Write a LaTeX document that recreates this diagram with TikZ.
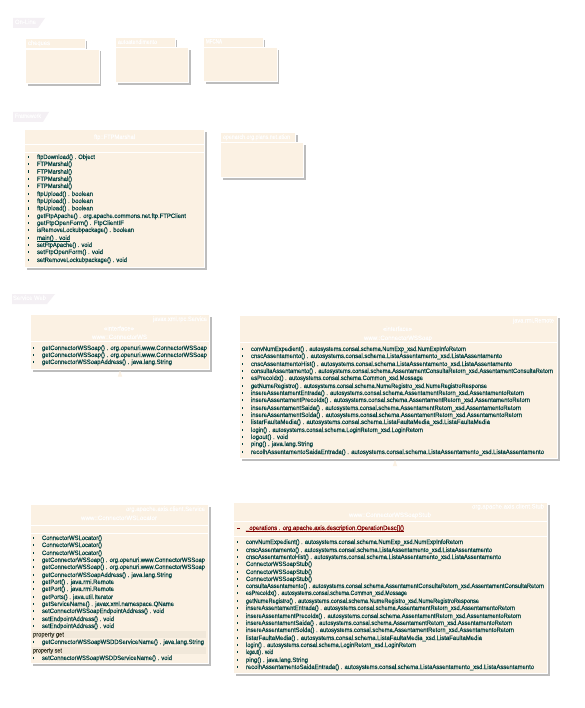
\documentclass[tikz,border=0pt]{standalone}
\usepackage{fontspec}
\usepackage{graphicx}
\setmainfont{Liberation Sans}[FakeBold=0.15]
\usetikzlibrary{shadows,arrows.meta}
\definecolor{cream}{HTML}{FBF1E3}
\definecolor{teal}{HTML}{003F3F}
\definecolor{band}{HTML}{F1E8DA}
\definecolor{tabc}{HTML}{F4F0F4}
\definecolor{shade}{HTML}{BDBDBD}
\definecolor{darkred}{HTML}{800000}
\definecolor{grp}{HTML}{3A3A2A}
\tikzset{
  umlbox/.style={fill=cream,draw=white,line width=.8pt,inner sep=0pt,outer sep=0pt,anchor=north west,
    drop shadow={opacity=1,fill=shade,shadow xshift=2.2pt,shadow yshift=-2.2pt}},
  sepline/.style={white,line width=.8pt},
  labeltxt/.style={inner sep=0pt,outer sep=0pt,anchor=base west},
  sectab/.style={fill=tabc},
  bandbox/.style={fill=band,inner sep=0pt,outer sep=0pt,anchor=north west},
  connector/.style={white,line width=.6pt,{Triangle[width=4pt,length=6pt,color=cream,fill=cream]}-},
}
\newcounter{lblc}
% #1 colour, #2 x start, #3 x end, #4 y centre, #5 text
\newcommand{\lbl}[5]{\stepcounter{lblc}%
  \node[labeltxt,text=#1] (t\thelblc) at (#2,#4+2) {\resizebox{\dimexpr #3pt-#2pt\relax}{5.15pt}{\fontsize{6}{7}\selectfont\strut #5}};}
\newcommand{\mth}[4]{\fill[teal] (#1-8.8,#3-1.3) rectangle (#1-8,#3+1.3);\lbl{teal}{#1}{#2}{#3}{#4}}
% name x1 y1 x2 y2 : cream area exactly x1..x2, y1..y2, white border outside it
\newcommand{\ubox}[5]{\node[umlbox,minimum width={(#4-#2+.8)*1pt},minimum height={(#5-#3+.8)*1pt}] (#1) at (#2-.4,#3-.4) {};}
\newcommand{\sepl}[3]{\draw[sepline] (#1,#3) -- (#2,#3);}
\begin{document}
\begin{tikzpicture}[x=1pt,y=-1pt]
\useasboundingbox (0,0) rectangle (585,708);
\fill[white] (0,0) rectangle (585,708);
% section tabs
\fill[sectab] (13,18) -- (45,18) -- (38,28) -- (13,28) -- cycle;
\lbl{white}{15}{36}{22}{On-Line}
\fill[sectab] (13,112) -- (49,112) -- (43,122) -- (13,122) -- cycle;
\lbl{white}{15}{41}{116}{Framework}
\fill[sectab] (12,294) -- (55,294) -- (47,304) -- (12,304) -- cycle;
\lbl{white}{13}{46}{298}{Service Web}
% packages
\ubox{p1t}{26}{39}{84.5}{48}\ubox{p1}{26}{49.5}{98.5}{83}
\lbl{white}{28}{50}{43}{cheques}
\ubox{p2t}{116}{38}{174.5}{47}\ubox{p2}{116}{48}{188}{82}
\lbl{white}{118}{157}{42}{autoatendimento}
\ubox{p3t}{204}{38}{262.5}{47}\ubox{p3}{204}{48}{276.5}{81}
\lbl{white}{206}{222}{41.5}{MFCNA}
\ubox{p4t}{221}{133}{295}{142}\ubox{p4}{221}{143}{303}{177}
\lbl{white}{223}{290}{137}{openarch.org.plans.net.ation}
% FTPMarshal
\ubox{ftp}{25}{130}{204}{267}
\sepl{25}{204}{144.5}\sepl{25}{204}{152.5}
\lbl{white}{94}{135}{137}{ftp::FTPMarshal}
\mth{37}{95}{157}{ftpDownload() . Object}
\mth{37}{72}{164}{FTPMarshal()}
\mth{37}{72}{171.7}{FTPMarshal()}
\mth{37}{72}{179}{FTPMarshal()}
\mth{37}{72}{186}{FTPMarshal()}
\mth{37}{93}{194}{ftpUpload() . boolean}
\mth{37}{93}{201}{ftpUpload() . boolean}
\mth{37}{93}{208.3}{ftpUpload() . boolean}
\mth{37}{186}{216}{getFtpApache() . org.apache.commons.net.ftp.FTPClient}
\mth{37}{124}{223}{getFtpOpenForm() . FtpClientIF}
\mth{37}{134}{230}{isRemoveLockubpackage() . boolean}
\mth{37}{70}{238}{main() . void}
\fill[teal] (37,240.8) rectangle (70,241.4);
\mth{37}{92}{245}{setFtpApache() . void}
\mth{37}{103}{252}{setFtpOpenForm() . void}
\mth{37}{127}{260}{setRemoveLockubpackage() . void}
% ConnectorWS
\ubox{ws}{31}{315}{209}{369}
\sepl{31}{209}{341}
\lbl{white}{153}{207}{319}{javax.xml.rpc.Service}
\lbl{white}{104}{134}{328.5}{«interface»}
\lbl{white}{92}{147}{337}{www::ConnectorWS}
\mth{42}{207}{348}{getConnectorWSSoap() . org.openuri.www.ConnectorWSSoap}
\mth{42}{207}{355}{getConnectorWSSoap() . org.openuri.www.ConnectorWSSoap}
\mth{42}{172}{362}{getConnectorWSSoapAddress() . java.lang.String}
% ConnectorWSSoap
\ubox{soap}{240}{316}{557}{458}
\sepl{240}{557}{342}
\lbl{white}{513}{554}{320.5}{java.rmi.Remote}
\lbl{white}{383}{412}{329}{«interface»}
\lbl{white}{364}{432}{338}{www::ConnectorWSSoap}
\mth{251}{466}{349}{convNumExpedient() . autosystems.consal.schema.NumExp\_xsd.NumExpInfoRetorn}
\mth{251}{502}{356}{cnscAssentamento() . autosystems.consal.schema.ListaAssentamento\_xsd.ListaAssentamento}
\mth{251}{512}{364}{cnscAssentamentoHist() . autosystems.consal.schema.ListaAssentamento\_xsd.ListaAssentamento}
\mth{251}{553}{371}{consultaAssentamento() . autosystems.consal.schema.AssentamentConsultaRetorn\_xsd.AssentamentConsultaRetorn}
\mth{251}{423}{378}{esPrecoIdx() . autosystems.consal.schema.Common\_xsd.Mossage}
\mth{251}{487}{386}{getNumeRegistro() . autosystems.consal.schema.NumeRegistro\_xsd.NumeRegistroResponse}
\mth{251}{524}{393}{insereAssentamentEntrada() . autosystems.consal.schema.AssentamentRetorn\_xsd.AssentamentoRetorn}
\mth{251}{530}{400}{insereAssentamentPrecoIdx() . autosystems.consal.schema.AssentamentRetorn\_xsd.AssentamentoRetorn}
\mth{251}{521}{408}{insereAssentamentSaida() . autosystems.consal.schema.AssentamentRetorn\_xsd.AssentamentoRetorn}
\mth{251}{522}{415}{insereAssentamentSolda() . autosystems.consal.schema.AssentamentRetorn\_xsd.AssentamentoRetorn}
\mth{251}{490}{422}{listarFaultaMedia() . autosystems.consal.schema.ListaFaultaMedia\_xsd.ListaFaultaMedia}
\mth{251}{423}{430}{login() . autosystems.consal.schema.LoginRetorn\_xsd.LoginRetorn}
\mth{251}{288}{437}{logout() . void}
\mth{251}{313}{444}{ping() . java.lang.String}
\mth{251}{544}{452}{recolhAssentamentoSaidaEntrada() . autosystems.consal.schema.ListaAssentamento\_xsd.ListaAssentamento}
% Locator
\ubox{loc}{31}{505}{208}{663}
\sepl{31}{208}{525.5}\sepl{31}{208}{533}
\lbl{white}{126}{205}{509}{org.apache.axis.client.Service}
\lbl{white}{81}{157}{518}{www::ConnectorWSLocator}
\mth{42}{102}{538}{ConnectorWSLocator()}
\mth{42}{102}{545}{ConnectorWSLocator()}
\mth{42}{102}{553}{ConnectorWSLocator()}
\mth{42}{205}{560}{getConnectorWSSoap() . org.openuri.www.ConnectorWSSoap}
\mth{42}{205}{567}{getConnectorWSSoap() . org.openuri.www.ConnectorWSSoap}
\mth{42}{172}{575}{getConnectorWSSoapAddress() . java.lang.String}
\mth{42}{114}{582}{getPort() . java.rmi.Remote}
\mth{42}{114}{589}{getPort() . java.rmi.Remote}
\mth{42}{113}{597}{getPorts() . java.util.Iterator}
\mth{42}{174}{604}{getServiceName() . javax.xml.namespace.QName}
\mth{42}{164}{611}{setConnectorWSSoapEndpointAddress() . void}
\mth{42}{114}{619}{setEndpointAddress() . void}
\mth{42}{114}{626}{setEndpointAddress() . void}
\node[bandbox,minimum width=174pt,minimum height=7pt] (gget) at (32,631) {};
\lbl{grp}{33}{64}{634.5}{property get}
\mth{42}{204}{642}{getConnectorWSSoapWSDDServiceName() . java.lang.String}
\node[bandbox,minimum width=174pt,minimum height=7pt] (gset) at (32,647) {};
\lbl{grp}{33}{62}{650.5}{property set}
\mth{42}{172}{658}{setConnectorWSSoapWSDDServiceName() . void}
% Stub
\ubox{stub}{234}{503}{547}{673}
\sepl{234}{547}{521.7}\sepl{234}{547}{536.7}
\lbl{white}{472}{544}{506.5}{org.apache.axis.client.Stub}
\lbl{white}{349}{431}{515}{www::ConnectorWSSoapStub}
\fill[darkred] (237,527.6) rectangle (240,528.4);
\lbl{darkred}{246}{404}{528}{\_operations . org.apache.axis.description.OperationDesc[]()}
\fill[darkred] (246,530.8) rectangle (404,531.4);
\mth{246}{463}{542}{convNumExpedient() . autosystems.consal.schema.NumExp\_xsd.NumExpInfoRetorn}
\mth{246}{492}{550}{cnscAssentamento() . autosystems.consal.schema.ListaAssentamento\_xsd.ListaAssentamento}
\mth{246}{501}{557}{cnscAssentamentoHist() . autosystems.consal.schema.ListaAssentamento\_xsd.ListaAssentamento}
\mth{246}{312}{564}{ConnectorWSSoapStub()}
\mth{246}{312}{572}{ConnectorWSSoapStub()}
\mth{246}{312}{579}{ConnectorWSSoapStub()}
\mth{246}{544}{586}{consultaAssentamento() . autosystems.consal.schema.AssentamentConsultaRetorn\_xsd.AssentamentConsultaRetorn}
\mth{246}{407}{593}{esPrecoIdx() . autosystems.consal.schema.Common\_xsd.Mossage}
\mth{246}{479}{601}{getNumeRegistro() . autosystems.consal.schema.NumeRegistro\_xsd.NumeRegistroResponse}
\mth{246}{515}{608}{insereAssentamentEntrada() . autosystems.consal.schema.AssentamentRetorn\_xsd.AssentamentoRetorn}
\mth{246}{521}{616}{insereAssentamentPrecoIdx() . autosystems.consal.schema.AssentamentRetorn\_xsd.AssentamentoRetorn}
\mth{246}{512}{623}{insereAssentamentSaida() . autosystems.consal.schema.AssentamentRetorn\_xsd.AssentamentoRetorn}
\mth{246}{514}{630}{insereAssentamentSolda() . autosystems.consal.schema.AssentamentRetorn\_xsd.AssentamentoRetorn}
\mth{246}{482}{638}{listarFaultaMedia() . autosystems.consal.schema.ListaFaultaMedia\_xsd.ListaFaultaMedia}
\mth{246}{416}{645}{login() . autosystems.consal.schema.LoginRetorn\_xsd.LoginRetorn}
\mth{246}{273}{652}{logout() . void}
\mth{246}{308}{660}{ping() . java.lang.String}
\mth{246}{534}{667}{recolhAssentamentoSaidaEntrada() . autosystems.consal.schema.ListaAssentamento\_xsd.ListaAssentamento}
% inheritance connectors
\coordinate (c1a) at (120,370.5);
\coordinate (c2a) at (395,460);
\draw[connector] (c1a) -- (c1a |- loc.north);
\draw[connector] (c2a) -- (c2a |- stub.north);
\end{tikzpicture}
\end{document}
